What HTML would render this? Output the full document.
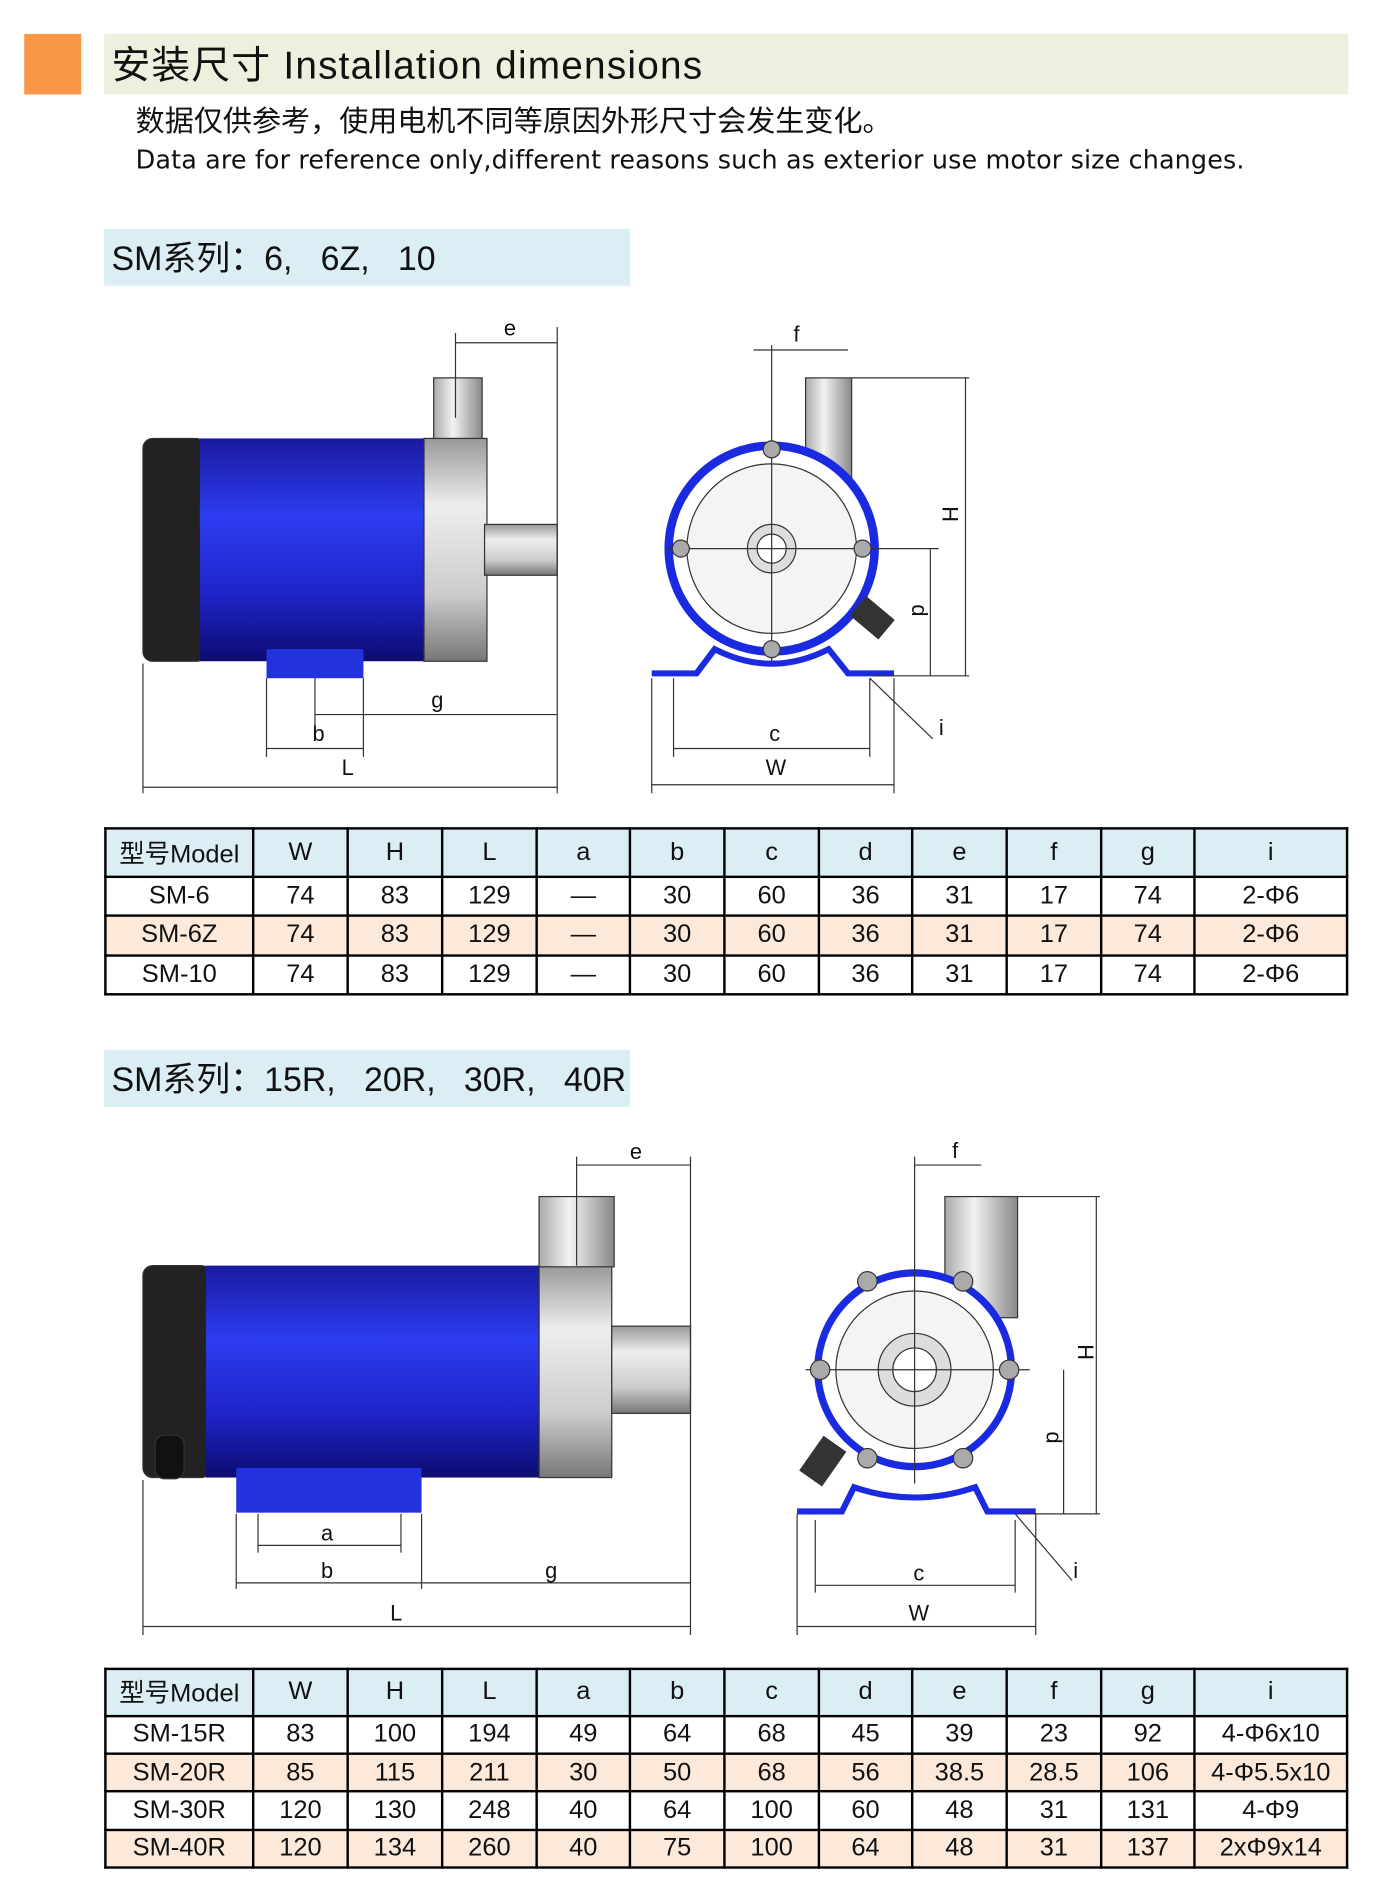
<!DOCTYPE html>
<html><head><meta charset="utf-8"><style>
html,body{margin:0;padding:0;background:#fff;}
body{width:1381px;height:1899px;overflow:hidden;position:relative;}
#w{position:absolute;left:0;top:0;width:1140px;height:1568px;transform:scale(1.2114,1.2111);transform-origin:0 0;font-family:"Liberation Sans","Noto Sans CJK SC",sans-serif;color:#111;}
.a{position:absolute;}
table{position:absolute;border-collapse:collapse;left:86px;width:1027px;table-layout:fixed;}
td{border:2px solid #000;text-align:center;font-size:21px;padding:0;}
tr.h td{background:#dbeef4;}
tr.p td{background:#fde9d9;}
</style></head><body><div id="w">
<div class="a" style="left:20px;top:28px;width:47px;height:50px;background:#f79646"></div>
<div class="a" style="left:86px;top:28px;width:1027px;height:50px;background:#ebf1de"></div>
<div class="a" style="left:92px;top:29px;font-size:32px;letter-spacing:1px;">安装尺寸 Installation dimensions</div>
<div class="a" style="left:112px;top:80px;font-size:24px;">数据仅供参考，使用电机不同等原因外形尺寸会发生变化。</div>
<div class="a" style="left:112px;top:120px;font-size:21px;font-family:'DejaVu Sans',sans-serif;letter-spacing:0.1px;">Data are for reference only,different reasons such as exterior use motor size changes.</div>
<div class="a" style="left:86px;top:189px;width:434px;height:47px;background:#dbeef4"></div>
<div class="a" style="left:92px;top:192px;font-size:28px;">SM系列：6,&nbsp;&nbsp; 6Z,&nbsp;&nbsp; 10</div>
<div class="a" style="left:86px;top:867px;width:434px;height:47px;background:#dbeef4"></div>
<div class="a" style="left:92px;top:870px;font-size:28px;">SM系列：15R,&nbsp;&nbsp; 20R,&nbsp;&nbsp; 30R,&nbsp;&nbsp; 40R</div>

<svg class="a" style="left:0;top:0" width="1140" height="1568" font-family="Liberation Sans,sans-serif" font-size="18">
<defs>
<linearGradient id="bl" x1="0" y1="0" x2="0" y2="1"><stop offset="0" stop-color="#1a1aa0"/><stop offset=".35" stop-color="#2c3cf0"/><stop offset=".7" stop-color="#1f24c8"/><stop offset="1" stop-color="#0c0c70"/></linearGradient>
<linearGradient id="gr" x1="0" y1="0" x2="0" y2="1"><stop offset="0" stop-color="#999"/><stop offset=".3" stop-color="#eee"/><stop offset=".7" stop-color="#ccc"/><stop offset="1" stop-color="#777"/></linearGradient>
<linearGradient id="gx" x1="0" y1="0" x2="1" y2="0"><stop offset="0" stop-color="#aaa"/><stop offset=".4" stop-color="#f2f2f2"/><stop offset="1" stop-color="#888"/></linearGradient>
</defs>
<g stroke="#333" stroke-width="1" fill="none">
<rect x="118" y="362" width="52" height="184" rx="8" fill="#222"/>
<rect x="165" y="362" width="185" height="184" fill="url(#bl)" stroke="none"/>
<rect x="350" y="362" width="52" height="184" fill="url(#gr)"/>
<rect x="358" y="312" width="40" height="50" fill="url(#gx)"/>
<rect x="400" y="433" width="60" height="42" fill="url(#gr)"/>
<rect x="220" y="536" width="80" height="24" fill="#2233dd" stroke="none"/>
<line x1="118" y1="548" x2="118" y2="655"/><line x1="460" y1="270" x2="460" y2="655"/>
<line x1="118" y1="650" x2="460" y2="650"/><text x="282" y="640" stroke="none" fill="#111">L</text>
<line x1="376" y1="283" x2="460" y2="283"/><line x1="376" y1="275" x2="376" y2="345"/><text x="416" y="277" stroke="none" fill="#111">e</text>
<line x1="220" y1="560" x2="220" y2="625"/><line x1="300" y1="560" x2="300" y2="625"/>
<line x1="220" y1="618" x2="300" y2="618"/><text x="258" y="612" stroke="none" fill="#111">b</text>
<line x1="260" y1="590" x2="460" y2="590"/><line x1="260" y1="560" x2="260" y2="600"/><text x="356" y="584" stroke="none" fill="#111">g</text>
<rect x="665" y="312" width="38" height="90" fill="url(#gx)"/>
<circle cx="637" cy="453" r="85" fill="#fff" stroke="#1a2ae0" stroke-width="7"/>
<circle cx="637" cy="453" r="70" fill="#f4f4f4"/>
<circle cx="637" cy="453" r="20" fill="#ddd"/><circle cx="637" cy="453" r="12" fill="#fff"/>
<line x1="637" y1="285" x2="637" y2="550"/><line x1="550" y1="453" x2="775" y2="453"/>
<circle cx="637" cy="371" r="7" fill="#aaa"/><circle cx="637" cy="536" r="7" fill="#aaa"/><circle cx="562" cy="453" r="7" fill="#aaa"/><circle cx="712" cy="453" r="7" fill="#aaa"/>
<path d="M538 556 H575 L590 536 Q637 560 684 536 L700 556 H738" stroke="#1a2ae0" stroke-width="5"/>
<rect x="705" y="500" width="30" height="20" fill="#333" transform="rotate(40 720 510)"/>
<line x1="703" y1="312" x2="800" y2="312"/><line x1="797" y1="312" x2="797" y2="558"/><line x1="720" y1="558" x2="800" y2="558"/>
<text x="778" y="432" stroke="none" fill="#111" transform="rotate(90 785 425)">H</text>
<line x1="768" y1="453" x2="768" y2="558"/><text x="752" y="510" stroke="none" fill="#111" transform="rotate(90 758 505)">d</text>
<line x1="622" y1="289" x2="700" y2="289"/><text x="655" y="282" stroke="none" fill="#111">f</text>
<line x1="538" y1="560" x2="538" y2="655"/><line x1="738" y1="560" x2="738" y2="655"/><line x1="538" y1="648" x2="738" y2="648"/><text x="632" y="640" stroke="none" fill="#111">W</text>
<line x1="556" y1="560" x2="556" y2="625"/><line x1="718" y1="560" x2="718" y2="625"/><line x1="556" y1="618" x2="718" y2="618"/><text x="635" y="612" stroke="none" fill="#111">c</text>
<line x1="718" y1="560" x2="770" y2="610"/><text x="775" y="607" stroke="none" fill="#111">i</text>

<rect x="118" y="1045" width="56" height="175" rx="8" fill="#222"/>
<rect x="170" y="1045" width="275" height="175" fill="url(#bl)" stroke="none"/>
<rect x="445" y="1045" width="60" height="175" fill="url(#gr)"/>
<rect x="445" y="988" width="62" height="58" fill="url(#gx)"/>
<rect x="505" y="1095" width="65" height="72" fill="url(#gr)"/>
<rect x="195" y="1212" width="153" height="37" fill="#2233dd" stroke="none"/>
<rect x="128" y="1185" width="24" height="36" rx="8" fill="#111"/>
<line x1="118" y1="1222" x2="118" y2="1350"/><line x1="570" y1="955" x2="570" y2="1350"/>
<line x1="118" y1="1343" x2="570" y2="1343"/><text x="322" y="1338" stroke="none" fill="#111">L</text>
<line x1="476" y1="962" x2="570" y2="962"/><line x1="476" y1="955" x2="476" y2="1045"/><text x="520" y="957" stroke="none" fill="#111">e</text>
<line x1="195" y1="1250" x2="195" y2="1312"/><line x1="348" y1="1250" x2="348" y2="1312"/>
<line x1="195" y1="1307" x2="570" y2="1307"/><text x="265" y="1303" stroke="none" fill="#111">b</text><text x="450" y="1303" stroke="none" fill="#111">g</text>
<line x1="213" y1="1250" x2="213" y2="1282"/><line x1="331" y1="1250" x2="331" y2="1282"/><line x1="213" y1="1276" x2="331" y2="1276"/><text x="265" y="1272" stroke="none" fill="#111">a</text>
<rect x="780" y="988" width="60" height="100" fill="url(#gx)"/>
<circle cx="755" cy="1131" r="80" fill="#fff" stroke="#1a2ae0" stroke-width="6"/>
<circle cx="755" cy="1131" r="65" fill="#f4f4f4"/>
<circle cx="755" cy="1131" r="30" fill="#ddd"/><circle cx="755" cy="1131" r="18" fill="#fff"/>
<line x1="755" y1="955" x2="755" y2="1225"/><line x1="665" y1="1131" x2="850" y2="1131"/>
<circle cx="716" cy="1058" r="8" fill="#aaa"/><circle cx="795" cy="1058" r="8" fill="#aaa"/><circle cx="716" cy="1204" r="8" fill="#aaa"/><circle cx="795" cy="1204" r="8" fill="#aaa"/><circle cx="677" cy="1131" r="8" fill="#aaa"/><circle cx="833" cy="1131" r="8" fill="#aaa"/>
<path d="M658 1248 H695 L705 1228 Q755 1245 805 1228 L815 1248 H855" stroke="#1a2ae0" stroke-width="5"/>
<rect x="668" y="1190" width="22" height="34" fill="#333" transform="rotate(35 680 1207)"/>
<line x1="840" y1="988" x2="908" y2="988"/><line x1="905" y1="988" x2="905" y2="1250"/><line x1="840" y1="1250" x2="908" y2="1250"/>
<text x="884" y="1120" stroke="none" fill="#111" transform="rotate(90 892 1118)">H</text>
<line x1="878" y1="1131" x2="878" y2="1250"/><text x="862" y="1192" stroke="none" fill="#111" transform="rotate(90 868 1188)">d</text>
<line x1="755" y1="962" x2="810" y2="962"/><text x="786" y="956" stroke="none" fill="#111">f</text>
<line x1="658" y1="1250" x2="658" y2="1350"/><line x1="855" y1="1250" x2="855" y2="1350"/><line x1="658" y1="1343" x2="855" y2="1343"/><text x="750" y="1338" stroke="none" fill="#111">W</text>
<line x1="673" y1="1255" x2="673" y2="1315"/><line x1="838" y1="1255" x2="838" y2="1315"/><line x1="673" y1="1309" x2="838" y2="1309"/><text x="754" y="1305" stroke="none" fill="#111">c</text>
<line x1="838" y1="1250" x2="885" y2="1305"/><text x="886" y="1303" stroke="none" fill="#111">i</text>
</g>
</svg>

<table style="top:683px;height:139px;">
<colgroup><col style="width:122px"><col style="width:78px"><col style="width:78px"><col style="width:78px"><col style="width:77px"><col style="width:78px"><col style="width:78px"><col style="width:77px"><col style="width:78px"><col style="width:78px"><col style="width:77px"><col></colgroup>
<tr class="h"><td>型号Model</td><td>W</td><td>H</td><td>L</td><td>a</td><td>b</td><td>c</td><td>d</td><td>e</td><td>f</td><td>g</td><td>i</td></tr>
<tr><td>SM-6</td><td>74</td><td>83</td><td>129</td><td>—</td><td>30</td><td>60</td><td>36</td><td>31</td><td>17</td><td>74</td><td>2-Φ6</td></tr>
<tr class="p"><td>SM-6Z</td><td>74</td><td>83</td><td>129</td><td>—</td><td>30</td><td>60</td><td>36</td><td>31</td><td>17</td><td>74</td><td>2-Φ6</td></tr>
<tr><td>SM-10</td><td>74</td><td>83</td><td>129</td><td>—</td><td>30</td><td>60</td><td>36</td><td>31</td><td>17</td><td>74</td><td>2-Φ6</td></tr>
</table>

<table style="top:1377px;height:166px;">
<colgroup><col style="width:122px"><col style="width:78px"><col style="width:78px"><col style="width:78px"><col style="width:77px"><col style="width:78px"><col style="width:78px"><col style="width:77px"><col style="width:78px"><col style="width:78px"><col style="width:77px"><col></colgroup>
<tr class="h"><td>型号Model</td><td>W</td><td>H</td><td>L</td><td>a</td><td>b</td><td>c</td><td>d</td><td>e</td><td>f</td><td>g</td><td>i</td></tr>
<tr><td>SM-15R</td><td>83</td><td>100</td><td>194</td><td>49</td><td>64</td><td>68</td><td>45</td><td>39</td><td>23</td><td>92</td><td>4-Φ6x10</td></tr>
<tr class="p"><td>SM-20R</td><td>85</td><td>115</td><td>211</td><td>30</td><td>50</td><td>68</td><td>56</td><td>38.5</td><td>28.5</td><td>106</td><td>4-Φ5.5x10</td></tr>
<tr><td>SM-30R</td><td>120</td><td>130</td><td>248</td><td>40</td><td>64</td><td>100</td><td>60</td><td>48</td><td>31</td><td>131</td><td>4-Φ9</td></tr>
<tr class="p"><td>SM-40R</td><td>120</td><td>134</td><td>260</td><td>40</td><td>75</td><td>100</td><td>64</td><td>48</td><td>31</td><td>137</td><td>2xΦ9x14</td></tr>
</table>
</div></body></html>
